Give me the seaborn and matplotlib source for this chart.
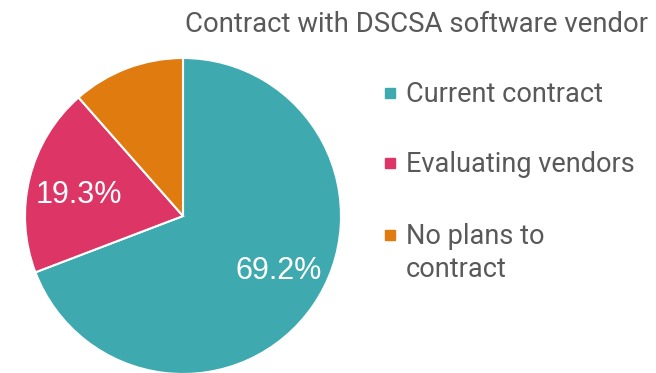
import matplotlib
matplotlib.use("Agg")
import matplotlib.pyplot as plt
import numpy as np
import seaborn as sns

# Survey responses on DSCSA software vendor contracts
categories = ["Current contract", "Evaluating vendors", "No plans to\ncontract"]
shares = [69.2, 19.3, 11.5]
colors = ["#3EAAB0", "#DC3566", "#E07B10"]
title = "Contract with DSCSA software vendor"

sns.set_theme(style="white")
plt.rcParams["font.family"] = ["Roboto", "DejaVu Sans"]

W, H = 656, 373
fig = plt.figure(figsize=(W / 100, H / 100), dpi=100)
fig.patch.set_facecolor("white")

# pie axes: centre (183, 216) px, radius 158 px
cx, cy, r = 183, 216, 158
ax = fig.add_axes([(cx - r) / W, (H - cy - r) / H, 2 * r / W, 2 * r / H])


def pct_label(p):
    return f"{p:.1f}%" if p > 15 else ""


wedges, texts, autotexts = ax.pie(
    shares,
    colors=colors,
    startangle=90,
    counterclock=False,
    radius=1.0,
    autopct=pct_label,
    pctdistance=0.70,
    wedgeprops=dict(edgecolor="white", linewidth=1.5),
    textprops=dict(color="white", fontsize=22, family=["Liberation Sans", "DejaVu Sans"]),
)

# fine placement of the percentage labels inside their wedges
label_dist = [0.70, 0.67]
label_turn = [4.5, 2.5]  # degrees counter-clockwise from wedge centre
for w, t, d, turn in zip(wedges, autotexts, label_dist, label_turn):
    mid = np.deg2rad((w.theta1 + w.theta2) / 2 + turn)
    t.set_position((d * np.cos(mid), d * np.sin(mid)))

ax.set_xlim(-1, 1)
ax.set_ylim(-1, 1)
ax.set_aspect("equal")
ax.axis("off")

grey = "#595959"
fig.text(648 / W, 1 - 25 / H, title, ha="right", va="center", fontsize=19.8, color=grey)

# legend entries drawn as square markers with labels
leg_y = [93, 163, 235]
line_gap = 33
for lab, col, y in zip(categories, colors, leg_y):
    fig.patches.append(plt.Rectangle((385 / W, 1 - (y + 5) / H), 10 / W, 10 / H,
                                     transform=fig.transFigure, color=col))
    for i, line in enumerate(lab.split("\n")):
        fig.text(406 / W, 1 - (y + 9 + i * line_gap) / H, line, ha="left", va="baseline",
                 fontsize=19.5, color=grey)

fig.savefig("out.png", dpi=100, facecolor="white")
